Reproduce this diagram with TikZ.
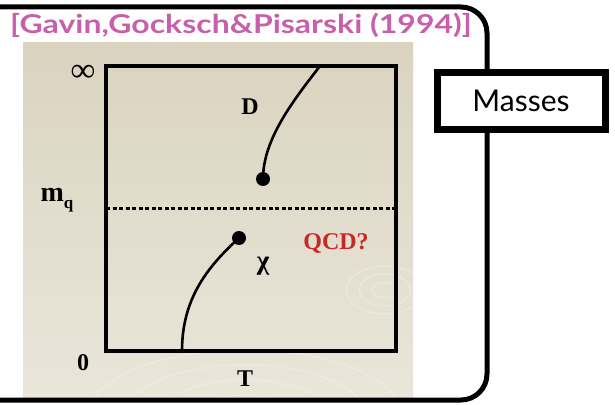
\documentclass[tikz,border=0pt]{standalone}
\usepackage{fontspec}
\setmainfont{Liberation Serif}
\newfontfamily\gillfont{Lato}
\definecolor{titlepink}{RGB}{200,95,170}
\definecolor{qcdred}{RGB}{200,40,35}
\definecolor{beigetop}{RGB}{218,211,192}
\definecolor{beigebot}{RGB}{233,230,218}
\tikzset{
  outerbox/.style={line width=5pt, rounded corners=26pt},
  plotframe/.style={line width=3.5pt},
  curveline/.style={line width=2.6pt},
  dotline/.style={line width=3pt, dash pattern=on 4pt off 2.5pt},
  enddot/.style={circle, fill=black, inner sep=0pt, minimum size=14pt},
  axlbl/.style={font=\bfseries\fontsize{24}{24}\selectfont, inner sep=0pt},
  massbox/.style={draw, line width=7pt, fill=white, minimum width=168pt, minimum height=57pt, font=\gillfont\fontsize{30}{30}\selectfont},
  titletxt/.style={text=titlepink, font=\gillfont\bfseries\fontsize{26}{26}\selectfont, inner sep=0pt, xscale=1.23}
}
\begin{document}
\begin{tikzpicture}[x=1pt,y=-1pt]
\useasboundingbox (0,0) rectangle (615,404);
\fill[white] (0,0) rectangle (615,404);
% beige panel
\shade[top color=beigetop, bottom color=beigebot] (23,43) rectangle (413,398);
% faint rings
\foreach \r in {20,35,50,65}{
  \draw[white, opacity=0.25, line width=1.2pt] (245,415) ellipse ({2.4*\r} and {\r});
}
\foreach \r in {8,16,24}{
  \draw[white, opacity=0.3, line width=1pt] (385,290) ellipse ({1.6*\r} and {\r});
}
% outer rounded box
\draw[outerbox] (-20,7) -- (487,7) -- (487,400) -- (-20,400);
% title
\node[titletxt] (title) at (241,25) {[Gavin,Gocksch\&Pisarski (1994)]};
% Masses box
\node[massbox] (masses) at (521,101) {Masses};
% plot frame
\coordinate (tl) at (106,66);
\coordinate (br) at (396,351);
\draw[plotframe] (tl) rectangle (br);
% dotted line
\coordinate (dl) at (106,208);
\coordinate (dr) at (396,208);
\draw[dotline] (dl) -- (dr);
% curves
\coordinate (dtop) at (320,66);
\node[enddot] (ddot) at (263,179) {};
\draw[curveline] (dtop) .. controls (292,102) and (263,140) .. (ddot.center);
\node[enddot] (cdot) at (239,238) {};
\coordinate (cbot) at (182,351);
\draw[curveline] (cdot.center) .. controls (206,268) and (182,300) .. (cbot);
% labels
\node[axlbl, font=\bfseries\fontsize{34}{34}\selectfont] (inf) at (83,73) {∞};
\node[axlbl, font=\bfseries\fontsize{28}{28}\selectfont] (mq) at (57,200) {m\raisebox{-7pt}{\fontsize{17}{17}\selectfont q}};
\node[axlbl] (zero) at (83,363) {0};
\node[axlbl] (tlab) at (245,379) {T};
\node[axlbl] (dlab) at (250,107) {D};
\node[axlbl, font=\bfseries\fontsize{27}{27}\selectfont] (chi) at (263,266) {χ};
\node[axlbl, text=qcdred] (qcd) at (336,243) {QCD?};
\end{tikzpicture}
\end{document}
